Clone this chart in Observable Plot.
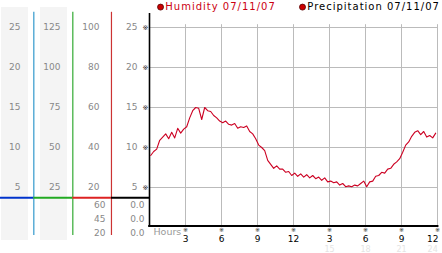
<!DOCTYPE html>
<html><head><meta charset="utf-8">
<script src="https://cdn.jsdelivr.net/npm/d3@7"></script>
<script src="https://cdn.jsdelivr.net/npm/@observablehq/plot@0.6"></script>
<style>body{margin:0;background:#fff}#chart svg{display:block}</style>
</head><body><div id="chart"></div>
<script>
// ---- data ----
const humidity = [
  9.0, 9.5, 9.8, 10.9, 11.3, 11.7, 11.1, 11.9, 11.2, 12.4, 11.8, 12.3,
  12.6, 13.7, 14.6, 15.0, 14.9, 13.5, 15.0, 14.6, 14.5, 14.0, 13.7, 13.3,
  13.1, 13.3, 12.9, 12.8, 13.0, 12.4, 12.6, 12.5, 12.7, 12.0, 11.7, 11.1,
  10.3, 10.0, 9.6, 8.4, 7.9, 7.4, 7.7, 7.3, 7.3, 6.9, 7.0, 6.5,
  6.8, 6.4, 6.7, 6.3, 6.6, 6.2, 6.5, 6.1, 6.3, 5.9, 6.2, 5.7,
  5.8, 5.6, 5.7, 5.3, 5.5, 5.1, 5.2, 5.1, 5.3, 5.2, 5.5, 5.8,
  5.1, 5.7, 5.8, 6.4, 6.5, 6.9, 6.8, 7.3, 7.4, 7.9, 8.2, 8.6,
  9.4, 10.3, 10.7, 11.4, 11.9, 12.1, 11.6, 12.0, 11.3, 11.5, 11.2, 11.8
];
const firstHour = 0.1, sampleStep = 0.25; // readings every 15 minutes
const gridValues = [5, 10, 15, 20, 25];
const hourTicks = [3, 6, 9, 12, 15, 18, 21, 24];
const hourLabels = ["3", "6", "9", "12", "3", "6", "9", "12"];
const hourLabels24 = ["15", "18", "21", "24"];
const col1Ticks = [25, 20, 15, 10, 5];
const col2Ticks = [125, 100, 75, 50, 25];
const col3Ticks = [100, 80, 60, 40, 20];
const col4Ticks = [25, 20, 15, 10, 5];
const col3Extra = ["60", "45", "20"];
const col4Extra = ["0.0", "0.0", "0.0"];
const legendNames = ["Humidity 07/11/07", "Precipitation 07/11/07"];

// ---- build ----
const series = humidity.map((v, i) => ({hour: firstHour + i * sampleStep, value: v}));

// layout (in scale units: x hours, y humidity units)
const col = {c1: -10.75, c2: -7.42, c3: -4.17, c3b: -3.67, c4: -1.0, c4b: -0.42};
const extraY = [2.78, 1.03, -0.72];
const panels = [{x1: -12.33, x2: -10.08}, {x1: -9.08, x2: -6.83}];
const seps = [{x: -9.64, c: "#3399cc"}, {x: -6.39, c: "#33aa33"}, {x: -3.17, c: "#cc3333"}];
const segs = [
  {x1: -12.45, x2: -9.64, c: "#0033cc"},
  {x1: -9.64, x2: -6.39, c: "#22aa22"},
  {x1: -6.39, x2: -3.17, c: "#dd2222"},
  {x1: -3.17, x2: 0, c: "#000"}
];
const legend = [
  {x: 0.92, name: legendNames[0], color: "#cc0011"},
  {x: 12.75, name: legendNames[1], color: "#000"}
];
const labelX = d => Math.min(d, 23.6);

const chart = Plot.plot({
  width: 442, height: 253,
  marginLeft: 149, marginRight: 5, marginTop: 13, marginBottom: 26,
  style: {fontFamily: "DejaVu Sans", fontSize: "9px", background: "#fff"},
  x: {domain: [0, 24], axis: null},
  y: {domain: [0, 26.75], axis: null},
  marks: [
    Plot.rect(panels, {x1: "x1", x2: "x2", y1: -1.625, y2: 27.5, fill: "#f4f4f4"}),
    Plot.ruleY(gridValues, {x1: 0, x2: 24, stroke: "#bbb"}),
    Plot.ruleX(hourTicks, {y1: 0, y2: 25.35, stroke: "#bbb"}),
    Plot.ruleX(seps, {x: "x", y1: -1.0, y2: 26.9, stroke: d => d.c, strokeWidth: 1.2}),
    Plot.ruleY(segs, {y: 3.71, x1: "x1", x2: "x2", stroke: d => d.c, strokeWidth: 2}),
    Plot.ruleX([0], {y1: 0.15, y2: 26.75, stroke: "#000", strokeWidth: 1.6}),
    Plot.ruleY([0.2], {x1: -0.07, x2: 24.12, stroke: "#000", strokeWidth: 2}),
    Plot.line(series, {x: "hour", y: "value", stroke: "#cc0022", strokeWidth: 1.1}),
    // left panel labels
    Plot.text(col1Ticks, {x: col.c1, y: d => d, text: d => String(d), textAnchor: "end", fill: "#888"}),
    Plot.text(col2Ticks, {x: col.c2, y: d => d / 5, text: d => String(d), textAnchor: "end", fill: "#888"}),
    Plot.text(col3Ticks, {x: col.c3, y: d => d / 4, text: d => String(d), textAnchor: "end", fill: "#888"}),
    Plot.text(col4Ticks, {x: col.c4, y: d => d, text: d => String(d), textAnchor: "end", fill: "#888"}),
    Plot.text(col3Extra, {x: col.c3b, y: (d, i) => extraY[i], text: d => d, textAnchor: "end", fill: "#888"}),
    Plot.text(col4Extra, {x: col.c4b, y: (d, i) => extraY[i], text: d => d, textAnchor: "end", fill: "#888"}),
    // axis glyphs
    Plot.text(gridValues, {x: -0.33, y: d => d, text: () => "※", fontSize: 7, fill: "#222"}),
    Plot.text(hourTicks, {x: d => d, y: -0.3, text: () => "※", fontSize: 6, fill: "#222"}),
    Plot.text(hourTicks, {x: labelX, y: -1.5, text: (d, i) => hourLabels[i], fill: "#000", fontSize: 9}),
    Plot.text(hourTicks.slice(4), {x: labelX, y: -2.7, text: (d, i) => hourLabels24[i], fill: "#e4e4e4", fontSize: 8}),
    Plot.text(["Hours"], {x: 0.33, y: -0.5, text: d => d, textAnchor: "start", fill: "#999", fontSize: 9.5}),
    // legend
    Plot.dot(legend, {x: "x", y: 27.55, r: 3, fill: "#cc0000", stroke: "#550000", strokeWidth: 0.8}),
    Plot.text(legend, {x: d => d.x + 0.4, y: 27.55, text: "name", textAnchor: "start", fill: d => d.color, fontSize: 10})
  ]
});
d3.select(chart).selectAll("text").filter(function() { return /07\/11\/07/.test(this.textContent); })
  .attr("letter-spacing", "1");
document.getElementById("chart").append(chart);
</script>
</body></html>
